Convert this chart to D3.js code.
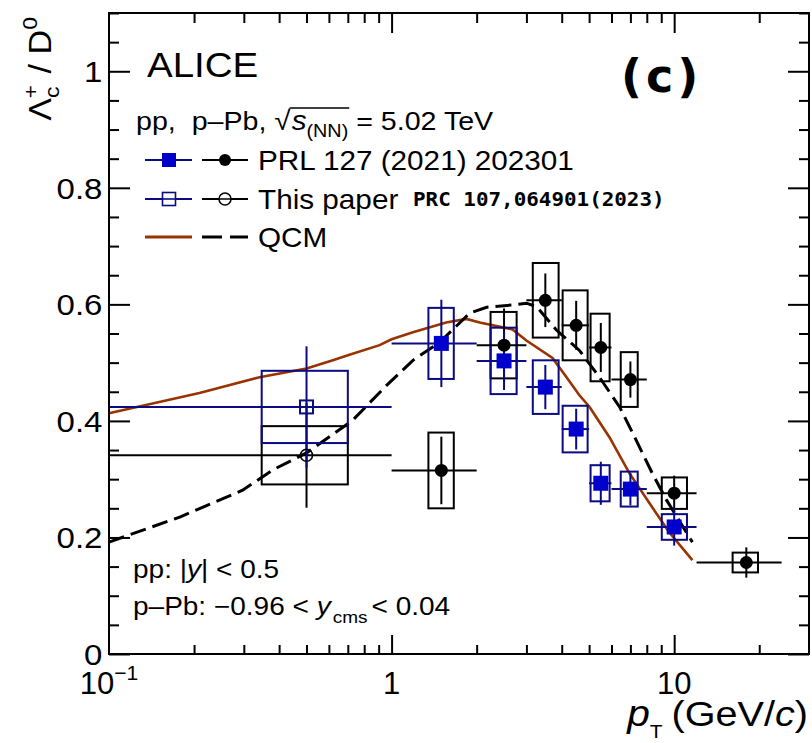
<!DOCTYPE html>
<html>
<head>
<meta charset="utf-8">
<script src="https://cdn.jsdelivr.net/npm/d3@7"></script>
<style>
  body { margin: 0; background: #fff; }
  svg { display: block; font-family: "Liberation Sans", Arial, sans-serif; }
  svg text { white-space: pre; }
</style>
</head>
<body>
<svg width="812" height="743"></svg>
<script>
// pp, PRL 127 (2021) 202301
var ppPt   = [1.5, 2.5, 3.5, 4.5, 5.5, 7, 10];
var ppLo   = [1, 2, 3, 4, 5, 6, 8];
var ppHi   = [2, 3, 4, 5, 6, 8, 12];
var ppVal  = [0.533, 0.503, 0.458, 0.386, 0.293, 0.283, 0.218];
var ppStat = [0.075, 0.05, 0.038, 0.035, 0.037, 0.028, 0.032];
var ppSyst = [0.061, 0.057, 0.046, 0.04, 0.031, 0.03, 0.022];

// p-Pb, PRL 127 (2021) 202301
var pbPt   = [1.5, 2.5, 3.5, 4.5, 5.5, 7, 10, 18];
var pbLo   = [1, 2, 3, 4, 5, 6, 8, 12];
var pbHi   = [2, 3, 4, 5, 6, 8, 12, 24];
var pbVal  = [0.315, 0.530, 0.607, 0.564, 0.526, 0.471, 0.276, 0.157];
var pbStat = [0.058, 0.063, 0.046, 0.042, 0.042, 0.031, 0.03, 0.026];
var pbSyst = [0.065, 0.057, 0.064, 0.06, 0.058, 0.047, 0.027, 0.017];

// this paper, 0 < pT < 1 GeV/c
var newPt     = [0.5];
var newLo     = [0.1];
var newHi     = [1];
var newPpVal  = [0.424];
var newPpStat = [0.104];
var newPpSyst = [0.062];
var newPbVal  = [0.341];
var newPbStat = [0.09];
var newPbSyst = [0.05];

// width of the systematic boxes
var boxPt = [0.5, 1.5, 2.5, 3.5, 4.5, 5.5, 7, 10, 18];
var boxLo = [0.347, 1.35, 2.24, 3.16, 4.03, 5.06, 6.47, 9.04, 16.1];
var boxHi = [0.70, 1.66, 2.77, 3.90, 4.94, 5.91, 7.43, 11.1, 19.8];

// QCM
var qcmPpPt  = [0.1, 0.209, 0.341, 0.5, 0.62, 0.705, 0.907, 1.0, 1.19, 1.56, 1.84, 2.05, 2.68, 3.0, 3.71, 4.16, 4.62, 5.02, 5.9, 6.95, 8.17, 9.6, 11.6];
var qcmPpVal = [0.413, 0.448, 0.475, 0.49, 0.504, 0.513, 0.53, 0.54, 0.552, 0.569, 0.575, 0.569, 0.557, 0.538, 0.508, 0.475, 0.444, 0.424, 0.372, 0.31, 0.259, 0.209, 0.161];
var qcmPbPt  = [0.1, 0.178, 0.297, 0.38, 0.5, 0.728, 0.96, 1.19, 1.48, 1.74, 1.89, 2.17, 2.68, 3.0, 3.26, 3.83, 4.62, 5.44, 6.41, 7.1, 8.37, 9.4, 11.6];
var qcmPbVal = [0.192, 0.235, 0.281, 0.316, 0.345, 0.401, 0.461, 0.504, 0.535, 0.568, 0.585, 0.595, 0.599, 0.602, 0.596, 0.556, 0.521, 0.475, 0.424, 0.381, 0.31, 0.264, 0.192];

var yMajor = [0, 0.2, 0.4, 0.6, 0.8, 1];
var xMajor = [1, 10];
var xMinor = [0.2, 0.3, 0.4, 0.5, 0.6, 0.7, 0.8, 0.9, 2, 3, 4, 5, 6, 7, 8, 9, 20];
var xLabels = [0.1, 1, 10];

var BLUE = "#0a0a82", BLUEFILL = "#0000cc", BROWN = "#993300";

var svg = d3.select("svg");
var x = d3.scaleLog().domain([0.1, 30]).range([109, 809]);
var y = d3.scaleLinear().domain([0, 1.1]).range([654, 13]);

// places consecutive text pieces, returns their extents
function runText(parent, x0, y0, sx, segs) {
    var cx = x0, ext = [];
    segs.forEach(function (s) {
        var t = parent.append("text")
            .attr("transform", "translate(" + cx + "," + (y0 + (s.dy || 0)) + ") scale(" + sx + ",1)")
            .attr("font-size", s.size)
            .attr("font-style", s.italic ? "italic" : null)
            .attr("font-weight", s.bold ? "bold" : null)
            .attr("letter-spacing", s.spacing || null)
            .style("font-family", s.font || null)
            .text(s.t);
        var w = t.node().getComputedTextLength() * sx;
        ext.push([cx, cx + w]);
        cx += w + (s.gap || 0);
    });
    return ext;
}

// QCM curves
var line = d3.line()
    .x(function (d) { return x(d[0]); })
    .y(function (d) { return y(d[1]); });

svg.append("path").datum(d3.zip(qcmPpPt, qcmPpVal))
    .attr("d", line).attr("fill", "none")
    .attr("stroke", BROWN).attr("stroke-width", 2.6);
svg.append("path").datum(d3.zip(qcmPbPt, qcmPbVal))
    .attr("d", line).attr("fill", "none")
    .attr("stroke", "#000").attr("stroke-width", 3)
    .attr("stroke-dasharray", "16 7");

// data
function drawBoxes(pt, val, syst, color) {
    pt.forEach(function (p, i) {
        var b = boxPt.indexOf(p);
        svg.append("rect")
            .attr("x", x(boxLo[b]))
            .attr("width", x(boxHi[b]) - x(boxLo[b]))
            .attr("y", y(val[i] + syst[i]))
            .attr("height", y(val[i] - syst[i]) - y(val[i] + syst[i]))
            .attr("fill", "none").attr("stroke", color).attr("stroke-width", 2);
    });
}

function drawErrors(pt, lo, hi, val, stat, color) {
    pt.forEach(function (p, i) {
        svg.append("line")
            .attr("x1", x(lo[i])).attr("x2", x(hi[i]))
            .attr("y1", y(val[i])).attr("y2", y(val[i]))
            .attr("stroke", color).attr("stroke-width", 2);
        svg.append("line")
            .attr("x1", x(p)).attr("x2", x(p))
            .attr("y1", y(val[i] - stat[i])).attr("y2", y(val[i] + stat[i]))
            .attr("stroke", color).attr("stroke-width", 2);
    });
}

function square(g, cx, cy, s, fill, stroke, sw) {
    g.append("rect").attr("x", cx - s / 2).attr("y", cy - s / 2)
        .attr("width", s).attr("height", s)
        .attr("fill", fill).attr("stroke", stroke).attr("stroke-width", sw || 0);
}
function circle(g, cx, cy, r, fill, stroke, sw) {
    g.append("circle").attr("cx", cx).attr("cy", cy).attr("r", r)
        .attr("fill", fill).attr("stroke", stroke).attr("stroke-width", sw || 0);
}

drawBoxes(pbPt, pbVal, pbSyst, "#000");
drawBoxes(newPt, newPbVal, newPbSyst, "#000");
drawBoxes(ppPt, ppVal, ppSyst, BLUE);
drawBoxes(newPt, newPpVal, newPpSyst, BLUE);

drawErrors(pbPt, pbLo, pbHi, pbVal, pbStat, "#000");
drawErrors(newPt, newLo, newHi, newPbVal, newPbStat, "#000");
drawErrors(ppPt, ppLo, ppHi, ppVal, ppStat, BLUE);
drawErrors(newPt, newLo, newHi, newPpVal, newPpStat, BLUE);

pbPt.forEach(function (p, i) { circle(svg, x(p), y(pbVal[i]), 6.5, "#000"); });
ppPt.forEach(function (p, i) { square(svg, x(p), y(ppVal[i]), 15, BLUEFILL); });
newPt.forEach(function (p, i) {
    circle(svg, x(p), y(newPbVal[i]), 6, "none", "#000", 1.6);
    square(svg, x(p), y(newPpVal[i]), 13, "none", BLUE, 2);
});

// axes
function styleAxis(g) {
    g.select(".domain").remove();
    g.selectAll(".tick line").attr("stroke", "#000").attr("stroke-width", 2);
}
var yMinor = d3.range(1, 23).filter(function (i) { return i % 4 != 0; })
    .map(function (i) { return i * 0.05; });

svg.append("g").attr("transform", "translate(109,0)")
    .call(d3.axisLeft(y).tickValues(yMajor).tickSize(-21).tickPadding(6)
        .tickFormat(function (d) { return d == 0 || d == 1 ? String(d) : d3.format(".1f")(d); }))
    .call(styleAxis)
    .call(function (g) {
        g.selectAll(".tick text")
            .attr("font-size", 30).attr("dy", "0.34em")
            .attr("transform", "scale(1.1,1)")
            .style("font-family", "'Liberation Sans', Arial, sans-serif")
            .attr("fill", "#000");
    });
svg.append("g").attr("transform", "translate(109,0)")
    .call(d3.axisLeft(y).tickValues(yMinor).tickSize(-10).tickFormat(""))
    .call(styleAxis);
svg.append("g").attr("transform", "translate(809,0)")
    .call(d3.axisRight(y).tickValues(yMajor).tickSize(-21).tickFormat(""))
    .call(styleAxis);
svg.append("g").attr("transform", "translate(809,0)")
    .call(d3.axisRight(y).tickValues(yMinor).tickSize(-10).tickFormat(""))
    .call(styleAxis);

svg.append("g").attr("transform", "translate(0,654)")
    .call(d3.axisBottom(x).tickValues(xMajor).tickSize(-19).tickFormat(""))
    .call(styleAxis);
svg.append("g").attr("transform", "translate(0,654)")
    .call(d3.axisBottom(x).tickValues(xMinor).tickSize(-9).tickFormat(""))
    .call(styleAxis);
svg.append("g").attr("transform", "translate(0,13)")
    .call(d3.axisTop(x).tickValues(xMajor).tickSize(-20).tickFormat(""))
    .call(styleAxis);
svg.append("g").attr("transform", "translate(0,13)")
    .call(d3.axisTop(x).tickValues(xMinor).tickSize(-10).tickFormat(""))
    .call(styleAxis);

svg.append("rect").attr("x", 109).attr("y", 13).attr("width", 700).attr("height", 641)
    .attr("fill", "none").attr("stroke", "#000").attr("stroke-width", 2);

// x tick labels
xLabels.forEach(function (v) {
    var g = svg.append("g");
    var segs = v == 0.1
        ? [{t: "10", size: 31}, {t: "\u22121", size: 21, dy: -14}]
        : [{t: String(v), size: 31}];
    var ext = runText(g, 0, 694, 1.0, segs);
    var w = ext[ext.length - 1][1];
    g.attr("transform", "translate(" + (x(v) - w / 2) + ",0)");
});

// x title
var gxt = svg.append("g");
var ext = runText(gxt, 0, 726, 1.1, [
    {t: "p", size: 37, italic: true},
    {t: "T", size: 19, dy: 12, gap: 9},
    {t: "(GeV/", size: 36},
    {t: "c", size: 36, italic: true},
    {t: ")", size: 36}
]);
gxt.attr("transform", "translate(" + (808 - ext[ext.length - 1][1]) + ",0)");

// y title
var gyt = svg.append("g");
var gyIn = gyt.append("g");
var ey = runText(gyIn, 0, 0, 1.1, [
    {t: "\u039B", size: 31},
    {t: "c", size: 21, dy: 8, gap: -12},
    {t: "+", size: 21, dy: -13, gap: 2},
    {t: " / D", size: 31},
    {t: "0", size: 21, dy: -14}
]);
gyIn.attr("transform", "translate(" + (-ey[ey.length - 1][1]) + ",0)");
gyt.attr("transform", "translate(51,17) rotate(-90)");

// labels
runText(svg, 147, 77, 1.1, [{t: "ALICE", size: 35}]);
runText(svg, 621, 92, 1.0, [{t: "(c)", size: 46, bold: true, spacing: 4, font: "'DejaVu Sans', sans-serif"}]);

var eh = runText(svg, 136, 130, 1.1, [
    {t: "pp,  p\u2013Pb, ", size: 26},
    {t: "\u221A", size: 27, gap: 1},
    {t: "s", size: 27, italic: true},
    {t: "(NN)", size: 18, dy: 7},
    {t: " = 5.02 TeV", size: 26}
]);
svg.append("line")
    .attr("x1", eh[1][1] - 1).attr("x2", eh[3][1] + 1)
    .attr("y1", 108).attr("y2", 108)
    .attr("stroke", "#000").attr("stroke-width", 1.5);

// legend
var leg = svg.append("g");
var rowY = [160, 199, 237];
function legLine(x1, x2, yy, color, sw, dash) {
    leg.append("line").attr("x1", x1).attr("x2", x2).attr("y1", yy).attr("y2", yy)
        .attr("stroke", color).attr("stroke-width", sw).attr("stroke-dasharray", dash || null);
}
legLine(145, 192, rowY[0], BLUE, 2);
legLine(202, 248, rowY[0], "#000", 2);
square(leg, 169, rowY[0], 14, BLUEFILL);
circle(leg, 225, rowY[0], 6, "#000");

legLine(145, 192, rowY[1], BLUE, 2);
legLine(202, 248, rowY[1], "#000", 2);
square(leg, 169, rowY[1], 13, "#fff", BLUE, 1.6);
circle(leg, 225, rowY[1], 6, "#fff", "#000", 1.5);
legLine(160, 178, rowY[1], BLUE, 1.6);
legLine(218, 232, rowY[1], "#000", 1.5);

legLine(145, 192, rowY[2], BROWN, 3);
legLine(202, 248, rowY[2], "#000", 3, "20 8");

runText(leg, 258, rowY[0] + 10, 1.1, [{t: "PRL 127 (2021) 202301", size: 27}]);
runText(leg, 258, rowY[1] + 10, 1.1, [{t: "This paper", size: 27}]);
runText(leg, 413, rowY[1] + 7, 1.1, [{t: "PRC 107,064901(2023)", size: 19, bold: true, font: "'DejaVu Sans Mono', monospace"}]);
runText(leg, 258, rowY[2] + 10, 1.1, [{t: "QCM", size: 27}]);

// rapidity ranges
runText(svg, 133, 578, 1.12, [
    {t: "pp: |", size: 25},
    {t: "y", size: 25, italic: true},
    {t: "| < 0.5", size: 25}
]);
runText(svg, 133, 615, 1.12, [
    {t: "p\u2013Pb: \u22120.96 < ", size: 25},
    {t: "y", size: 25, italic: true, gap: 2},
    {t: "cms", size: 17, dy: 8, gap: 4},
    {t: "< 0.04", size: 25}
]);
</script>
</body>
</html>
